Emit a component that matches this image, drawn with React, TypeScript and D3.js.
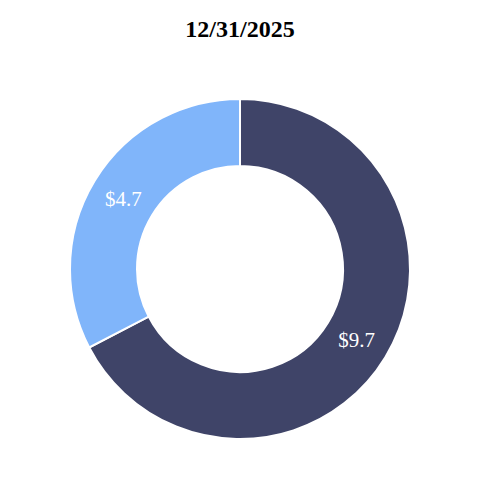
import React from "react";
import * as d3 from "d3";

const categories = ["A", "B"];
const values = [9.7, 4.7];
const labels = ["$9.7", "$4.7"];
const colors = ["#3f4468", "#80b5fa"];
const title = "12/31/2025";

export default function App() {
  const width = 480;
  const height = 480;
  const cx = 240;
  const cy = 269;
  const outer = 170;
  const inner = 103;
  const pie = d3.pie<number>().sort(null).value((d) => d);
  const arcs = pie(values);
  const arc = d3.arc<d3.PieArcDatum<number>>().innerRadius(inner).outerRadius(outer);
  return (
    <svg width={width} height={height} style={{ position: "absolute", left: 0, top: 0 }}
      fontFamily="'Liberation Serif', 'Times New Roman', serif">
      <rect width={width} height={height} fill="#fff" />
      <text x={240} y={37} textAnchor="middle" fontSize={24} fontWeight="bold" fill="#000">{title}</text>
      <g transform={`translate(${cx},${cy})`}>
        {arcs.map((a, i) => (
          <path key={categories[i]} d={arc(a) || ""} fill={colors[i]} stroke="#fff" strokeWidth={2} />
        ))}
        {arcs.map((a, i) => {
          const [x, y] = arc.centroid(a);
          return (
            <text key={"l" + i} x={x} y={y} dy="0.35em" textAnchor="middle" fontSize={21} fill="#fff">{labels[i]}</text>
          );
        })}
      </g>
    </svg>
  );
}
